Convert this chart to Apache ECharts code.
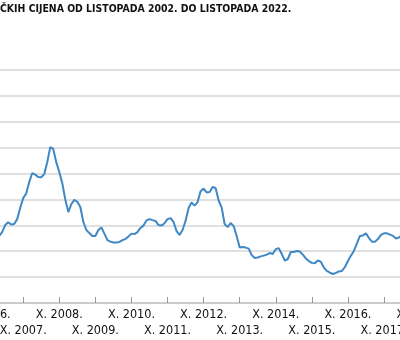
<!DOCTYPE html>
<html>
<head>
<meta charset="utf-8">
<script src="https://cdn.jsdelivr.net/npm/echarts@6/dist/echarts.min.js"></script>
<style>
  html, body { margin: 0; padding: 0; background: #fff; }
  #chart { width: 400px; height: 340px; }
</style>
</head>
<body>
<div id="chart"></div>
<script>
// Title line of the chart
const titleText = 'ČKIH CIJENA OD LISTOPADA 2002. DO LISTOPADA 2022.';

// Year tick labels, one per October (month index 0 = X. 2002.)
const yearLabels = [
  'X. 2002.', 'X. 2003.', 'X. 2004.', 'X. 2005.', 'X. 2006.', 'X. 2007.', 'X. 2008.',
  'X. 2009.', 'X. 2010.', 'X. 2011.', 'X. 2012.', 'X. 2013.', 'X. 2014.', 'X. 2015.',
  'X. 2016.', 'X. 2017.', 'X. 2018.', 'X. 2019.', 'X. 2020.', 'X. 2021.', 'X. 2022.'
];

// Monthly series; first value is February 2007 (month 52 counted from October 2002)
const firstMonth = 52;
const priceValues = [
  259, 274, 301, 312, 303, 305, 324, 367, 405, 423, 467, 502,
  496, 487, 486, 498, 544, 602, 595, 544, 506, 463, 400, 351,
  382, 398, 391, 371, 313, 282, 270, 259, 259, 282, 292, 268,
  243, 237, 234, 234, 236, 243, 247, 257, 268, 266, 274, 290,
  299, 319, 324, 320, 317, 301, 299, 308, 324, 328, 313, 278,
  263, 282, 317, 367, 388, 376, 390, 432, 442, 427, 429, 448,
  444, 396, 369, 305, 293, 309, 297, 259, 214, 216, 214, 210,
  185, 174, 176, 180, 183, 187, 193, 189, 208, 212, 189, 164,
  170, 197, 197, 201, 199, 187, 172, 162, 155, 154, 164, 159,
  137, 124, 117, 112, 116, 122, 124, 139, 162, 183, 201, 230,
  259, 261, 269, 251, 237, 237, 247, 263, 269, 269, 264, 259,
  249, 253, 263
];

const labelFont = "'Liberation Sans Narrow', 'DejaVu Sans Condensed', 'Arial Narrow', sans-serif";

const seriesData = priceValues.map((v, k) => [firstMonth + k, v]);

const chart = echarts.init(document.getElementById('chart'), null, { renderer: 'canvas' });

chart.setOption({
  backgroundColor: '#ffffff',
  animation: false,
  title: {
    text: titleText,
    left: 0,
    top: 4,
    padding: 0,
    textStyle: {
      fontFamily: labelFont,
      fontSize: 10.4,
      fontWeight: 'bold',
      color: '#111111'
    }
  },
  grid: {
    left: -157.2,
    right: -164.4,
    top: 70,
    bottom: 37,
    outerBoundsMode: 'none'
  },
  xAxis: {
    type: 'value',
    min: 0,
    max: 240,
    interval: 12,
    axisLine: { show: true, lineStyle: { color: '#c4c4c4', width: 1.5 } },
    axisTick: { show: true, inside: true, length: 6, lineStyle: { color: '#9a9a9a', width: 1 } },
    splitLine: { show: false },
    axisLabel: {
      margin: 4,
      fontFamily: labelFont,
      fontSize: 12.5,
      lineHeight: 16,
      color: '#111111',
      formatter: function (val) {
        const k = Math.round(val / 12);
        const text = yearLabels[k] || '';
        // odd years (2003, 2005, ...) sit on the second row
        return k % 2 === 1 ? '\n' + text : text;
      }
    }
  },
  yAxis: {
    type: 'value',
    min: 0,
    max: 900,
    interval: 100,
    axisLine: { show: false },
    axisTick: { show: false },
    axisLabel: { show: false },
    splitLine: { show: true, lineStyle: { color: '#d6d6d6', width: 1.5 } }
  },
  series: [{
    type: 'line',
    data: seriesData,
    showSymbol: false,
    smooth: false,
    clip: true,
    lineStyle: { color: '#3f88c5', width: 2 }
  }]
});
</script>
</body>
</html>
